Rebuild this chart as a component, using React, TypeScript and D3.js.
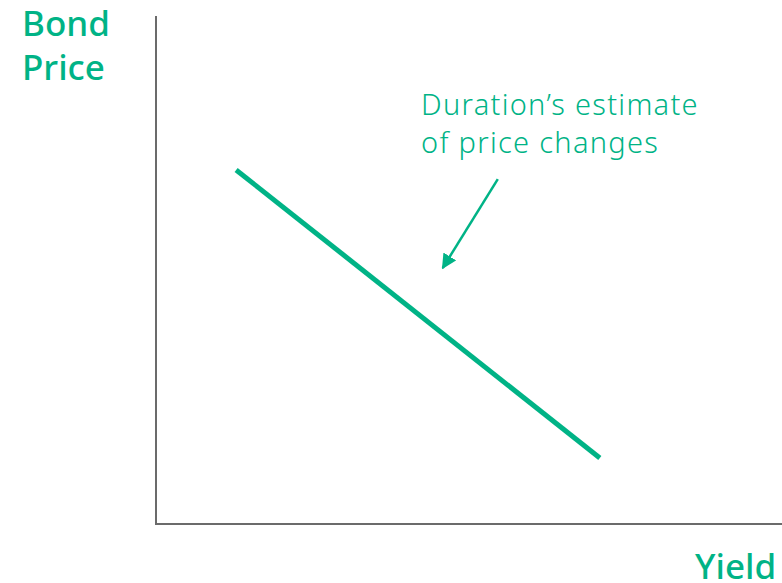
import React, { useEffect, useRef } from 'react';
import * as d3 from 'd3';

// duration line (yield, price) in arbitrary units
const durationYield = [1.28, 7.09];
const durationPrice = [6.97, 1.3];
// annotation arrow (from -> to)
const arrowYield = [5.46, 4.58];
const arrowPrice = [6.79, 5.04];

const annotationLines = ['Duration\u2019s estimate', 'of price changes'];
const yLabelLines = ['Bond', 'Price'];
const xLabel = 'Yield';

const GREEN = '#00b386';

const App: React.FC = () => {
  const svgRef = useRef<SVGSVGElement>(null);

  useEffect(() => {
    if (!svgRef.current) return;
    const svg = d3.select(svgRef.current);
    svg.selectAll('*').remove();

    const width = 782;
    const height = 583;
    const margin = { top: 16, right: 0, bottom: 59, left: 156 };

    const x = d3.scaleLinear().domain([0, 10]).range([margin.left, width - margin.right]);
    const y = d3.scaleLinear().domain([0, 10]).range([height - margin.bottom, margin.top]);

    const defs = svg.append('defs');
    defs
      .append('marker')
      .attr('id', 'arrowhead')
      .attr('viewBox', '0 0 10 10')
      .attr('refX', 9)
      .attr('refY', 5)
      .attr('markerWidth', 6)
      .attr('markerHeight', 6)
      .attr('markerUnits', 'strokeWidth')
      .attr('orient', 'auto')
      .append('path')
      .attr('d', 'M0,0 L10,5 L0,10 z')
      .attr('fill', GREEN);

    // axes
    svg
      .append('line')
      .attr('x1', x(0))
      .attr('x2', x(0))
      .attr('y1', y(10))
      .attr('y2', y(0))
      .attr('stroke', '#6b6b6b')
      .attr('stroke-width', 2);
    svg
      .append('line')
      .attr('x1', x(0) - 1)
      .attr('x2', x(10))
      .attr('y1', y(0))
      .attr('y2', y(0))
      .attr('stroke', '#6b6b6b')
      .attr('stroke-width', 2);

    // duration line
    const pts = durationYield.map((v, i) => [v, durationPrice[i]] as [number, number]);
    svg
      .append('path')
      .datum(pts)
      .attr('d', d3.line<[number, number]>().x(d => x(d[0])).y(d => y(d[1])))
      .attr('fill', 'none')
      .attr('stroke', GREEN)
      .attr('stroke-width', 5);

    // arrow
    svg
      .append('line')
      .attr('x1', x(arrowYield[0]))
      .attr('y1', y(arrowPrice[0]))
      .attr('x2', x(arrowYield[1]))
      .attr('y2', y(arrowPrice[1]))
      .attr('stroke', GREEN)
      .attr('stroke-width', 2.5)
      .attr('marker-end', 'url(#arrowhead)');

    // labels
    const font = "'Noto Sans', 'Open Sans', sans-serif";
    svg
      .append('text')
      .attr('x', 22)
      .attr('y', 36)
      .attr('fill', GREEN)
      .style('font-family', font)
      .style('font-size', '35px')
      .style('font-weight', 500)
      .selectAll('tspan')
      .data(yLabelLines)
      .enter()
      .append('tspan')
      .attr('x', 22)
      .attr('dy', (_, i) => (i === 0 ? 0 : 44))
      .text(d => d);

    svg
      .append('text')
      .attr('x', 695)
      .attr('y', 579)
      .attr('fill', GREEN)
      .style('font-family', font)
      .style('font-size', '35px')
      .style('font-weight', 500)
      .text(xLabel);

    svg
      .append('text')
      .attr('y', 115)
      .attr('fill', GREEN)
      .style('font-family', font)
      .style('font-size', '29px')
      .style('font-weight', 300)
      .style('letter-spacing', '1.3px')
      .selectAll('tspan')
      .data(annotationLines)
      .enter()
      .append('tspan')
      .attr('x', 421)
      .attr('dy', (_, i) => (i === 0 ? 0 : 38))
      .text(d => d);
  }, []);

  return (
    <svg
      ref={svgRef}
      width={782}
      height={583}
      style={{ position: 'absolute', top: 0, left: 0, background: '#fff' }}
    />
  );
};

export default App;
